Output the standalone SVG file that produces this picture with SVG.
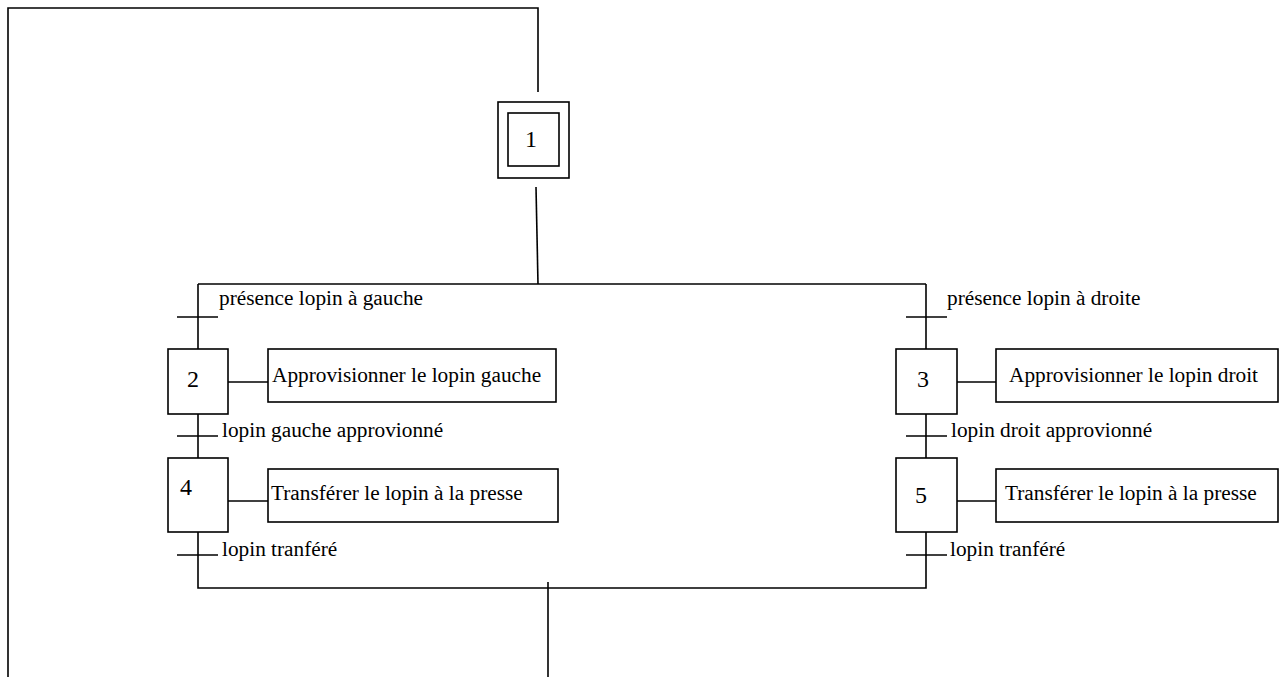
<svg xmlns="http://www.w3.org/2000/svg" width="1283" height="677" viewBox="0 0 1283 677">
<style>
.ln{stroke:#000;stroke-width:1.6;fill:none}
.bx{stroke:#000;stroke-width:1.6;fill:#fff}
.t{font-family:"Liberation Serif","Times New Roman",serif;font-size:21.3px;fill:#000}
.n{font-family:"Liberation Serif","Times New Roman",serif;font-size:24px;fill:#000}
</style>
<rect width="1283" height="677" fill="#fff"/>
<g id="connectors">
<polyline class="ln" points="8,677 8,8 538,8 538,92"/>
<line class="ln" x1="536" y1="187" x2="538" y2="284"/>
<line class="ln" x1="198" y1="284" x2="926" y2="284"/>
<line class="ln" x1="198" y1="284" x2="198" y2="349"/>
<line class="ln" x1="926" y1="284" x2="926" y2="349"/>
<line class="ln" x1="198" y1="414" x2="198" y2="458"/>
<line class="ln" x1="926" y1="414" x2="926" y2="458"/>
<polyline class="ln" points="198,532 198,588 926,588 926,532"/>
<line class="ln" x1="548" y1="582" x2="548" y2="677"/>
<line class="ln" x1="228" y1="382" x2="268" y2="382"/>
<line class="ln" x1="957" y1="382" x2="996" y2="382"/>
<line class="ln" x1="228" y1="501" x2="268" y2="501"/>
<line class="ln" x1="957" y1="501" x2="996" y2="501"/>
</g>
<g id="transitions">
<line class="ln" x1="177" y1="317" x2="218" y2="317"/>
<text class="t" x="219" y="305">présence lopin à gauche</text>
<line class="ln" x1="906" y1="317" x2="947" y2="317"/>
<text class="t" x="947" y="305">présence lopin à droite</text>
<line class="ln" x1="177" y1="436" x2="218" y2="436"/>
<text class="t" x="222" y="437">lopin gauche approvionné</text>
<line class="ln" x1="906" y1="436" x2="947" y2="436"/>
<text class="t" x="951" y="437">lopin droit approvionné</text>
<line class="ln" x1="177" y1="555" x2="218" y2="555"/>
<text class="t" x="222" y="556">lopin tranféré</text>
<line class="ln" x1="906" y1="555" x2="947" y2="555"/>
<text class="t" x="950" y="556">lopin tranféré</text>
</g>
<g id="step1">
<rect class="bx" x="498" y="102" width="71" height="76"/>
<rect class="bx" x="508" y="113" width="51" height="53"/>
<text class="n" x="531" y="147" text-anchor="middle">1</text>
</g>
<g id="step2">
<rect class="bx" x="168" y="349" width="60" height="65"/>
<text class="n" x="193" y="387" text-anchor="middle">2</text>
</g>
<g id="action2">
<rect class="bx" x="268" y="349" width="288" height="53"/>
<text class="t" x="272" y="382">Approvisionner le lopin gauche</text>
</g>
<g id="step3">
<rect class="bx" x="896" y="349" width="61" height="65"/>
<text class="n" x="923" y="387" text-anchor="middle">3</text>
</g>
<g id="action3">
<rect class="bx" x="996" y="349" width="282" height="53"/>
<text class="t" x="1009" y="382">Approvisionner le lopin droit</text>
</g>
<g id="step4">
<rect class="bx" x="168" y="458" width="60" height="74"/>
<text class="n" x="186" y="495" text-anchor="middle">4</text>
</g>
<g id="action4">
<rect class="bx" x="268" y="469" width="290" height="53"/>
<text class="t" x="271" y="500">Transférer le lopin à la presse</text>
</g>
<g id="step5">
<rect class="bx" x="896" y="458" width="61" height="74"/>
<text class="n" x="921" y="503" text-anchor="middle">5</text>
</g>
<g id="action5">
<rect class="bx" x="996" y="469" width="282" height="53"/>
<text class="t" x="1005" y="500">Transférer le lopin à la presse</text>
</g>
</svg>
